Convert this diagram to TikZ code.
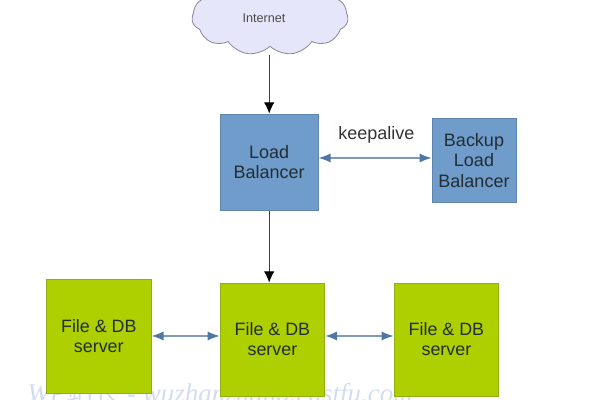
\documentclass[tikz,border=0pt]{standalone}
\usepackage{fontspec}
\setmainfont{Liberation Sans}
\newfontfamily\cjk{Noto Sans CJK SC}
\newfontfamily\sitefont{Liberation Serif}
\usepackage{xcolor}
\usetikzlibrary{calc,arrows.meta,shapes.symbols}
\definecolor{lbblue}{HTML}{6F9CCB}
\definecolor{lbedge}{HTML}{5F86AE}
\definecolor{srvgreen}{HTML}{AECF00}
\definecolor{srvedge}{HTML}{93AE14}
\definecolor{cloudfill}{HTML}{E6E6FA}
\definecolor{cloudedge}{HTML}{8A8AA0}
\definecolor{linkblue}{HTML}{4F77A3}
\definecolor{linkline}{HTML}{7F9BBA}
\definecolor{ink}{HTML}{222E33}
\definecolor{sitemark}{HTML}{D3DCF2}
\tikzset{
  lb/.style={draw=lbedge, fill=lbblue, line width=0.6pt, align=center, text=ink, font=\fontsize{12.8}{14.4}\selectfont},
  srv/.style={draw=srvedge, fill=srvgreen, line width=0.6pt, align=center, text=ink, font=\fontsize{12.7}{14.2}\selectfont, minimum width=2.62cm, minimum height=2.83cm},
  down/.style={draw=black!75, line width=0.8pt, -{Latex[length=8pt,width=7.5pt,color=black]}},
  link/.style={draw=linkline, line width=0.9pt, {Latex[length=8.5pt,width=6.5pt,color=linkblue]}-{Latex[length=8.5pt,width=6.5pt,color=linkblue]}},
}
\begin{document}
\begin{tikzpicture}
  \useasboundingbox (0,0) rectangle (15,10);
  % site mark along the bottom, behind the servers
  \node[text=sitemark, font=\sitefont\itshape\fontsize{19.2}{21}\selectfont, anchor=base west, inner sep=0pt] (site) at (0.68,-0.06) {WP{\cjk 站长} - wuzhanzhang.eastfu.com};

  % cloud is cut by the top edge
  \begin{scope}
    \clip (0,0) rectangle (15,10);
    \node[cloud, cloud puffs=11, cloud puff arc=100, aspect=2.6, draw=cloudedge, fill=cloudfill, line width=0.6pt,
      minimum width=3.9cm, minimum height=1.9cm, inner sep=0pt, outer sep=0pt] (inet) at (6.75,9.57) {};
  \end{scope}
  \node[text=black!70, font=\fontsize{9}{11}\selectfont] (inettxt) at (6.6,9.55) {Internet};

  \node[lb, minimum width=2.45cm, minimum height=2.42cm] (lbmain) at (6.73,5.94) {Load\\Balancer};
  \node[lb, minimum width=2.1cm, minimum height=2.12cm] (lbback) at (11.85,5.99) {Backup\\Load\\Balancer};
  \node[font=\fontsize{12.8}{14}\selectfont, text=black!80] (ka) at (9.41,6.62) {keepalive};

  \node[srv] (s1) at (2.47,1.59) {File \& DB\\server};
  \node[srv] (s2) at (6.81,1.51) {File \& DB\\server};
  \node[srv] (s3) at (11.16,1.51) {File \& DB\\server};

  \coordinate (inetb) at (6.73,8.63);
  \draw[down] (inetb) -- (inetb |- lbmain.north);
  \draw[down] (lbmain.south) -- (lbmain.south |- s2.north);
  \coordinate (lbrow) at (0,6.05);
  \coordinate (srvrow) at (0,1.6);
  \draw[link] (lbmain.east |- lbrow) -- (lbback.west |- lbrow);
  \draw[link] (s1.east |- srvrow) -- (s2.west |- srvrow);
  \draw[link] (s2.east |- srvrow) -- (s3.west |- srvrow);
\end{tikzpicture}
\end{document}
